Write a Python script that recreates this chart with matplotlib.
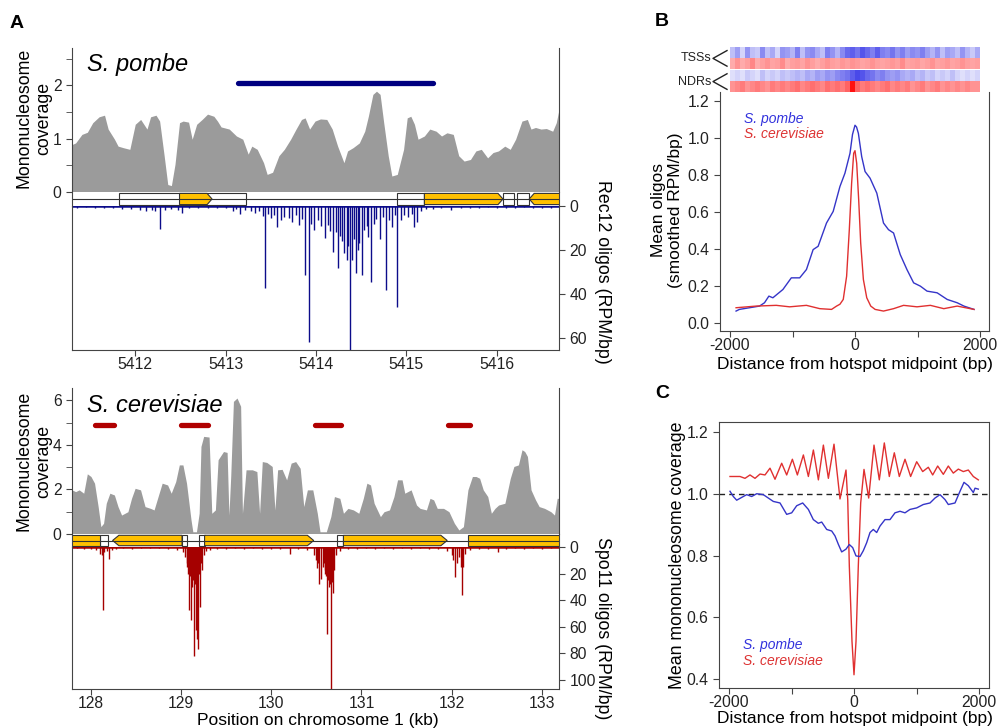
import numpy as np
import matplotlib
matplotlib.use('Agg')
import matplotlib.pyplot as plt
from matplotlib.colors import LinearSegmentedColormap
from matplotlib.patches import Polygon, Rectangle

# Colors
GREY = '#9b9b9b'
NAVY = '#0c0c8a'
DARKRED = '#a50000'
ORANGE = '#ffc000'
BLUE = '#3535c8'
RED = '#e03030'
EDGE = '#444444'

plt.rcParams['font.family'] = ['Liberation Sans', 'DejaVu Sans']
plt.rcParams['font.size'] = 11.3
plt.rcParams['axes.edgecolor'] = EDGE
plt.rcParams['xtick.color'] = EDGE
plt.rcParams['ytick.color'] = EDGE
plt.rcParams['xtick.labelcolor'] = '#222222'
plt.rcParams['ytick.labelcolor'] = '#222222'
plt.rcParams['xtick.major.size'] = 4
plt.rcParams['ytick.major.size'] = 4
plt.rcParams['xtick.minor.size'] = 4
plt.rcParams['ytick.minor.size'] = 4
plt.rcParams['xtick.major.pad'] = 1.0

# ---------------- data: S. pombe track (kb) ----------------
pombe_cov_x = [5411.30, 5411.34, 5411.41, 5411.47, 5411.53, 5411.60, 5411.66, 5411.70, 5411.77, 5411.81,
               5411.87, 5411.94, 5412.00, 5412.06, 5412.13, 5412.17, 5412.23, 5412.27, 5412.32, 5412.36,
               5412.40, 5412.44, 5412.49, 5412.53, 5412.59, 5412.63, 5412.68, 5412.74, 5412.80, 5412.87,
               5412.91, 5412.95, 5413.04, 5413.12, 5413.19, 5413.25, 5413.29, 5413.35, 5413.42, 5413.46,
               5413.52, 5413.59, 5413.65, 5413.72, 5413.78, 5413.84, 5413.88, 5413.93, 5413.99, 5414.05,
               5414.12, 5414.18, 5414.24, 5414.31, 5414.35, 5414.41, 5414.48, 5414.54, 5414.58, 5414.63,
               5414.67, 5414.71, 5414.75, 5414.80, 5414.84, 5414.90, 5414.97, 5415.01, 5415.05, 5415.09,
               5415.13, 5415.20, 5415.26, 5415.33, 5415.39, 5415.45, 5415.52, 5415.58, 5415.64, 5415.71,
               5415.77, 5415.83, 5415.90, 5415.96, 5416.02, 5416.09, 5416.15, 5416.21, 5416.28, 5416.34,
               5416.38, 5416.43, 5416.49, 5416.55, 5416.62, 5416.66, 5416.69]
pombe_cov_y = [0.89, 0.92, 1.08, 1.12, 1.30, 1.41, 1.44, 1.18, 0.99, 0.86,
               0.83, 0.80, 1.27, 1.36, 1.18, 1.41, 1.44, 1.33, 0.68, 0.14,
               0.12, 0.52, 1.30, 1.33, 1.31, 0.99, 1.27, 1.36, 1.46, 1.42,
               1.33, 1.22, 1.18, 1.05, 0.99, 0.71, 0.86, 0.80, 0.55, 0.33,
               0.37, 0.68, 0.80, 0.99, 1.18, 1.36, 1.39, 1.18, 1.33, 1.37,
               1.36, 1.18, 0.86, 0.55, 0.77, 0.83, 0.92, 1.14, 1.42, 1.83,
               1.89, 1.83, 1.30, 0.68, 0.30, 0.33, 0.80, 1.39, 1.42, 1.27,
               0.99, 1.05, 1.18, 1.14, 1.05, 1.11, 1.08, 0.68, 0.58, 0.61,
               0.77, 0.80, 0.64, 0.74, 0.77, 0.86, 0.80, 0.99, 1.33, 1.36,
               1.18, 1.21, 1.18, 1.19, 1.14, 1.30, 1.55]
pombe_hotspots = [(5413.14, 5415.30)]
pombe_utrs = [(5411.82, 5413.23), (5414.90, 5415.20), (5416.07, 5416.19), (5416.22, 5416.36)]
pombe_cds = [(5412.49, 5412.85, 1), (5415.20, 5416.07, 1), (5416.36, 5416.90, -1)]
pombe_oligo_x = [5411.35, 5411.45, 5411.55, 5411.65, 5411.75, 5411.85, 5411.95, 5412.05, 5412.12, 5412.18,
                 5412.22, 5412.27, 5412.33, 5412.40, 5412.47, 5412.52, 5412.60, 5412.70, 5412.80, 5412.90,
                 5413.00, 5413.08, 5413.12, 5413.16, 5413.22, 5413.28, 5413.32, 5413.37, 5413.41, 5413.44,
                 5413.47, 5413.50, 5413.54, 5413.57, 5413.61, 5413.65, 5413.70, 5413.74, 5413.78, 5413.81,
                 5413.85, 5413.88, 5413.92, 5413.95, 5413.98, 5414.02, 5414.06, 5414.10, 5414.13, 5414.16,
                 5414.19, 5414.22, 5414.24, 5414.27, 5414.29, 5414.31, 5414.34, 5414.36, 5414.38, 5414.40,
                 5414.42, 5414.44, 5414.46, 5414.48, 5414.51, 5414.53, 5414.56, 5414.58, 5414.61, 5414.64,
                 5414.67, 5414.71, 5414.74, 5414.78, 5414.81, 5414.84, 5414.87, 5414.90, 5414.94, 5414.98,
                 5415.02, 5415.06, 5415.09, 5415.12, 5415.16, 5415.22, 5415.30, 5415.38, 5415.50, 5415.60,
                 5415.70, 5415.80, 5415.90, 5416.00, 5416.10, 5416.20, 5416.30, 5416.40, 5416.50, 5416.60]
pombe_oligo_y = [0.8, 0.6, 0.9, 0.7, 1.0, 1.2, 1.5, 1.8, 2.2, 1.6,
                 2.5, 10.6, 1.8, 1.4, 2.0, 3.3, 1.0, 0.8, 0.9, 0.7,
                 1.0, 2.1, 1.5, 3.6, 1.8, 2.4, 3.0, 2.2, 4.5, 37.4,
                 3.5, 5.6, 4.0, 9.4, 6.2, 4.8, 5.6, 7.5, 4.2, 8.8,
                 6.0, 31.4, 61.7, 8.0, 10.9, 6.5, 9.2, 14.7, 8.5, 11.2,
                 20.8, 12.0, 28.3, 13.5, 16.0, 21.2, 24.5, 18.0, 66.0, 24.5,
                 15.0, 30.6, 20.0, 17.0, 31.4, 11.0, 9.0, 14.0, 34.4, 8.0,
                 6.0, 15.0, 5.0, 38.2, 6.5, 9.4, 4.0, 46.0, 6.4, 4.2,
                 5.0, 3.5, 9.4, 7.1, 2.5, 1.5, 1.2, 1.0, 1.8, 0.8,
                 0.7, 0.9, 0.6, 0.8, 0.7, 0.9, 0.6, 1.0, 0.8, 0.7]
pombe_xticks = [5412, 5413, 5414, 5415, 5416]

# ---------------- data: S. cerevisiae track (kb) ----------------
cer_cov_x = [127.79, 127.83, 127.87, 127.92, 127.96, 128.00, 128.04, 128.08, 128.11, 128.14,
             128.17, 128.21, 128.26, 128.30, 128.34, 128.41, 128.45, 128.49, 128.55, 128.60,
             128.66, 128.70, 128.75, 128.79, 128.85, 128.89, 128.94, 128.98, 129.02, 129.06,
             129.11, 129.13, 129.17, 129.20, 129.22, 129.25, 129.31, 129.34, 129.38, 129.41,
             129.47, 129.51, 129.53, 129.55, 129.58, 129.62, 129.66, 129.68, 129.72, 129.79,
             129.84, 129.87, 129.90, 129.95, 130.01, 130.04, 130.07, 130.12, 130.17, 130.22,
             130.27, 130.32, 130.36, 130.40, 130.46, 130.51, 130.54, 130.61, 130.66, 130.70,
             130.76, 130.80, 130.85, 130.91, 130.97, 131.02, 131.06, 131.10, 131.14, 131.21,
             131.25, 131.31, 131.36, 131.40, 131.45, 131.48, 131.55, 131.61, 131.65, 131.72,
             131.76, 131.80, 131.84, 131.91, 131.97, 132.03, 132.08, 132.13, 132.18, 132.23,
             132.27, 132.31, 132.35, 132.40, 132.44, 132.48, 132.52, 132.59, 132.65, 132.69,
             132.74, 132.78, 132.81, 132.84, 132.88, 132.93, 132.97, 133.03, 133.10, 133.14,
             133.17, 133.19]
cer_cov_y = [1.98, 1.90, 1.98, 1.83, 2.70, 2.58, 2.28, 1.23, 0.33, 0.48,
             1.38, 1.83, 1.75, 1.23, 0.85, 1.00, 1.60, 2.05, 1.98, 1.23,
             1.15, 1.08, 1.75, 2.28, 2.20, 1.83, 2.35, 3.10, 3.10, 2.28,
             0.63, 0.10, 0.10, 0.93, 3.93, 4.38, 4.35, 0.93, 1.08, 3.33,
             3.70, 3.66, 0.85, 2.58, 5.95, 6.10, 5.73, 0.93, 2.88, 2.88,
             2.80, 0.93, 3.25, 3.21, 3.03, 1.08, 2.88, 2.90, 2.43, 3.18,
             3.25, 2.95, 1.23, 1.98, 1.98, 0.93, 0.10, 0.10, 0.78, 1.68,
             1.60, 0.93, 1.15, 1.08, 0.93, 1.60, 2.28, 2.20, 1.38, 0.78,
             1.00, 1.08, 1.68, 2.43, 2.43, 1.83, 1.98, 1.30, 1.15, 1.08,
             1.60, 1.53, 1.15, 1.15, 1.00, 0.48, 0.18, 0.33, 1.98, 2.58,
             2.58, 2.50, 1.98, 1.68, 0.93, 1.15, 1.30, 1.38, 2.50, 3.03,
             3.10, 3.78, 3.70, 3.48, 1.98, 1.53, 1.23, 1.15, 1.00, 0.85,
             1.60, 1.60]
cer_hotspots = [(128.04, 128.26), (129.00, 129.30), (130.48, 130.77), (131.96, 132.20)]
cer_utrs = [(128.10, 128.19), (129.01, 129.07), (129.20, 129.26), (130.73, 130.80)]
cer_cds = [(127.60, 128.10, 0), (128.24, 129.01, -1), (129.26, 130.47, 1),
           (130.80, 131.95, 1), (132.18, 133.40, 0)]
cer_oligo_x = [127.85, 127.92, 128.00, 128.06, 128.10, 128.12, 128.13, 128.15, 128.18, 128.20,
               128.23, 128.28, 128.35, 128.45, 128.55, 128.65, 128.75, 128.85, 128.95, 129.02,
               129.04, 129.06, 129.07, 129.08, 129.09, 129.10, 129.11, 129.12, 129.13, 129.14,
               129.15, 129.16, 129.17, 129.18, 129.19, 129.20, 129.21, 129.22, 129.23, 129.25,
               129.28, 129.32, 129.40, 129.50, 129.60, 129.70, 129.80, 129.90, 130.00, 130.10,
               130.21, 130.30, 130.40, 130.47, 130.49, 130.51, 130.52, 130.53, 130.55, 130.57,
               130.58, 130.59, 130.60, 130.61, 130.62, 130.63, 130.64, 130.65, 130.66, 130.67,
               130.68, 130.70, 130.72, 130.76, 130.85, 130.95, 131.05, 131.15, 131.25, 131.35,
               131.45, 131.55, 131.65, 131.75, 131.85, 131.95, 132.00, 132.02, 132.04, 132.06,
               132.08, 132.10, 132.11, 132.13, 132.15, 132.20, 132.30, 132.40, 132.51, 132.60,
               132.70, 132.80, 132.90, 133.00, 133.10]
cer_oligo_y = [1.0, 1.5, 1.2, 2.0, 5.0, 6.3, 47.7, 4.0, 3.0, 8.8,
               2.5, 1.5, 1.0, 1.2, 1.0, 0.8, 1.0, 1.3, 2.0, 4.0,
               7.5, 12.0, 15.0, 20.0, 47.7, 22.0, 55.0, 30.0, 25.0, 82.4,
               28.0, 62.8, 24.0, 69.0, 76.6, 20.0, 45.0, 12.0, 17.6, 6.0,
               3.0, 2.0, 1.5, 1.2, 1.0, 1.3, 1.0, 1.2, 1.5, 1.3,
               5.0, 1.5, 2.5, 6.0, 10.0, 16.0, 12.0, 27.6, 24.0, 15.0,
               12.0, 17.6, 20.0, 22.0, 65.3, 25.0, 30.0, 28.0, 108.5, 26.0,
               35.0, 17.6, 6.0, 3.0, 1.5, 1.2, 1.0, 1.3, 1.0, 1.2,
               1.0, 1.3, 1.0, 1.2, 1.5, 3.0, 6.0, 10.0, 22.6, 12.0,
               7.5, 15.0, 36.4, 15.0, 5.0, 2.0, 1.5, 1.2, 3.8, 1.2,
               1.0, 1.2, 1.0, 1.3, 1.0]
cer_xticks = [128, 129, 130, 131, 132, 133]

# ---------------- data: panel B ----------------
heat_tss_pombe = [0.30, 0.45, 0.20, 0.50, 0.30, 0.25, 0.55, 0.30, 0.40, 0.20,
                  0.50, 0.45, 0.35, 0.60, 0.30, 0.50, 0.55, 0.40, 0.30, 0.60,
                  0.50, 0.35, 0.55, 0.70, 0.75, 0.65, 0.80, 0.70, 0.60, 0.75,
                  0.60, 0.55, 0.65, 0.50, 0.60, 0.45, 0.55, 0.50, 0.60, 0.45,
                  0.35, 0.50, 0.30, 0.45, 0.40, 0.30, 0.50, 0.35, 0.25, 0.40]
heat_tss_cer = [0.35, 0.45, 0.35, 0.40, 0.50, 0.35, 0.40, 0.45, 0.38, 0.40,
                0.48, 0.35, 0.40, 0.42, 0.38, 0.45, 0.40, 0.35, 0.40, 0.45,
                0.40, 0.38, 0.43, 0.40, 0.45, 0.42, 0.38, 0.40, 0.45, 0.40,
                0.38, 0.40, 0.43, 0.40, 0.48, 0.38, 0.40, 0.42, 0.37, 0.40,
                0.45, 0.38, 0.40, 0.43, 0.38, 0.40, 0.45, 0.40, 0.38, 0.40]
heat_ndr_pombe = [0.15, 0.20, 0.15, 0.25, 0.20, 0.15, 0.30, 0.20, 0.25, 0.20,
                  0.30, 0.25, 0.30, 0.35, 0.30, 0.40, 0.35, 0.45, 0.40, 0.50,
                  0.45, 0.55, 0.60, 0.65, 0.75, 0.85, 0.80, 0.70, 0.65, 0.55,
                  0.60, 0.50, 0.45, 0.50, 0.40, 0.35, 0.40, 0.30, 0.35, 0.25,
                  0.30, 0.20, 0.25, 0.20, 0.30, 0.20, 0.15, 0.20, 0.15, 0.20]
heat_ndr_cer = [0.45, 0.50, 0.55, 0.45, 0.50, 0.55, 0.50, 0.45, 0.55, 0.50,
                0.55, 0.50, 0.55, 0.60, 0.50, 0.55, 0.60, 0.55, 0.50, 0.60,
                0.55, 0.60, 0.55, 0.65, 1.00, 0.65, 0.55, 0.60, 0.55, 0.50,
                0.55, 0.60, 0.50, 0.55, 0.50, 0.55, 0.45, 0.50, 0.55, 0.45,
                0.50, 0.55, 0.45, 0.50, 0.45, 0.50, 0.45, 0.50, 0.45, 0.45]
heat_labels = ['TSSs', 'NDRs']

b_pombe_x = [-1903, -1850, -1689, -1528, -1448, -1378, -1314, -1153, -1019, -885,
             -777, -670, -590, -456, -349, -241, -161, -80, -40, 0,
             25, 54, 107, 161, 241, 349, 456, 536, 617, 724,
             831, 938, 1046, 1153, 1314, 1475, 1635, 1743, 1904]
b_pombe_y = [0.063, 0.072, 0.081, 0.090, 0.108, 0.144, 0.135, 0.180, 0.243, 0.243,
             0.288, 0.396, 0.414, 0.540, 0.603, 0.738, 0.810, 0.918, 1.020, 1.070,
             1.060, 1.026, 0.900, 0.819, 0.783, 0.702, 0.540, 0.504, 0.486, 0.369,
             0.288, 0.216, 0.198, 0.171, 0.162, 0.126, 0.108, 0.090, 0.072]
b_cer_x = [-1903, -1582, -1260, -1046, -777, -563, -375, -295, -241, -188,
           -134, -91, -54, -21, 0, 27, 59, 91, 134, 188,
           252, 322, 456, 617, 777, 992, 1206, 1421, 1635, 1904]
b_cer_y = [0.081, 0.090, 0.094, 0.086, 0.094, 0.076, 0.072, 0.090, 0.100, 0.126,
           0.252, 0.504, 0.756, 0.918, 0.932, 0.864, 0.666, 0.432, 0.234, 0.135,
           0.090, 0.072, 0.063, 0.076, 0.094, 0.086, 0.094, 0.076, 0.090, 0.072]

# ---------------- data: panel C ----------------
c_cer_x = [-1984, -1824, -1744, -1664, -1584, -1504, -1424, -1344, -1264, -1157,
           -1077, -986, -906, -810, -730, -650, -570, -490, -410, -320,
           -224, -128, -100, -75, -32, 0, 32, 69, 107, 160,
           235, 320, 405, 485, 565, 645, 725, 816, 906, 1003,
           1099, 1189, 1259, 1339, 1429, 1509, 1589, 1669, 1749, 1829,
           1909, 1989]
c_cer_y = [1.057, 1.057, 1.051, 1.062, 1.051, 1.065, 1.062, 1.084, 1.048, 1.100,
           1.062, 1.113, 1.062, 1.127, 1.057, 1.143, 1.046, 1.159, 1.051, 1.162,
           0.984, 1.078, 0.980, 0.767, 0.521, 0.413, 0.521, 0.767, 0.971, 1.080,
           0.987, 1.159, 1.046, 1.166, 1.057, 1.134, 1.057, 1.113, 1.057, 1.105,
           1.073, 1.087, 1.062, 1.091, 1.064, 1.091, 1.068, 1.081, 1.073, 1.078,
           1.057, 1.046]
c_pombe_x = [-1984, -1931, -1877, -1771, -1717, -1637, -1557, -1451, -1371, -1291,
             -1184, -1077, -997, -917, -821, -730, -651, -571, -517, -437,
             -357, -304, -251, -197, -128, -75, -21, 32, 96, 149,
             203, 256, 309, 363, 416, 496, 576, 656, 736, 816,
             896, 1003, 1109, 1216, 1296, 1376, 1456, 1509, 1616, 1696,
             1760, 1829, 1909, 1936, 1989]
c_pombe_y = [1.009, 0.992, 0.980, 0.992, 0.998, 0.992, 1.001, 0.998, 0.987, 0.976,
             0.971, 0.934, 0.939, 0.962, 0.971, 0.950, 0.917, 0.905, 0.909, 0.885,
             0.880, 0.864, 0.837, 0.812, 0.821, 0.836, 0.826, 0.799, 0.797, 0.816,
             0.842, 0.875, 0.885, 0.875, 0.896, 0.917, 0.917, 0.939, 0.944, 0.939,
             0.950, 0.955, 0.966, 0.971, 0.987, 0.998, 0.982, 0.966, 0.971, 1.009,
             1.038, 1.027, 1.005, 1.019, 1.016]
dist_ticks = [-2000, -1000, 0, 1000, 2000]
dist_labels = ['-2000', '', '0', '', '2000']

# ---------------- figure ----------------
W, H = 998, 728
fig = plt.figure(figsize=(W / 100, H / 100), dpi=100)


def box(l, t, r, b):
    return fig.add_axes([l / W, 1 - b / H, (r - l) / W, (b - t) / H])


def sides_only(ax, bottom=False, top=False):
    ax.spines['top'].set_visible(top)
    ax.spines['bottom'].set_visible(bottom)


def draw_genes(ax, utrs, cds, xlim, tip):
    ax.plot(xlim, [0.5, 0.5], color='#333333', lw=0.8)
    for s, e in utrs:
        ax.add_patch(Rectangle((s, 0.1), e - s, 0.8, fc='white', ec='#333333', lw=0.8))
    for s, e, strand in cds:
        if strand > 0:
            pts = [(s, .1), (e - tip, .1), (e, .5), (e - tip, .9), (s, .9)]
        elif strand < 0:
            pts = [(s, .5), (s + tip, .1), (e, .1), (e, .9), (s + tip, .9)]
        else:
            pts = [(s, .1), (e, .1), (e, .9), (s, .9)]
        ax.add_patch(Polygon(pts, closed=True, fc=ORANGE, ec='#333333', lw=0.8))
    ax.set_xlim(xlim)
    ax.set_ylim(0, 1)
    ax.set_xticks([])
    ax.set_yticks([])
    sides_only(ax)


def draw_track(ys, xlim, cov_x, cov_y, cov_top, cov_ticks, cov_minor, hot, hot_y, hot_color,
               utrs, cds, tip, ol_x, ol_y, ol_max, ol_ticks, ol_color, xticks):
    y0, y1, y2, y3 = ys
    ax_cov = box(72, y0, 559, y1)
    ax_cov.fill_between(cov_x, 0, cov_y, color=GREY, lw=0)
    for s, e in hot:
        ax_cov.plot([s, e], [hot_y, hot_y], color=hot_color, lw=3.8, solid_capstyle='round')
    ax_cov.set_xlim(xlim)
    ax_cov.set_ylim(0, cov_top)
    ax_cov.set_yticks(cov_ticks)
    ax_cov.set_yticks(cov_minor, minor=True)
    ax_cov.set_xticks([])
    sides_only(ax_cov)

    ax_gene = box(72, y1, 559, y2)
    draw_genes(ax_gene, utrs, cds, xlim, tip)

    ax_ol = box(72, y2, 559, y3)
    ax_ol.axhline(0, color=ol_color, lw=1.8)
    ax_ol.vlines(ol_x, 0, ol_y, colors=ol_color, lw=1.0)
    ax_ol.set_xlim(xlim)
    ax_ol.set_ylim(ol_max, 0)
    ax_ol.yaxis.tick_right()
    ax_ol.set_yticks(ol_ticks)
    ax_ol.set_xticks(xticks)
    ax_ol.spines['top'].set_visible(False)
    return ax_cov, ax_ol


draw_track((48, 192, 206, 350), (5411.30, 5416.69), pombe_cov_x, pombe_cov_y, 2.7,
           [0, 1, 2], [0.5, 1.5, 2.5], pombe_hotspots, 2.05, '#000080',
           pombe_utrs, pombe_cds, 0.055, pombe_oligo_x, pombe_oligo_y, 65.5,
           [0, 20, 40, 60], NAVY, pombe_xticks)
draw_track((388, 534, 547, 689), (127.79, 133.19), cer_cov_x, cer_cov_y, 6.55,
           [0, 2, 4, 6], [1, 3, 5], cer_hotspots, 4.9, '#b00000',
           cer_utrs, cer_cds, 0.07, cer_oligo_x, cer_oligo_y, 107,
           [0, 20, 40, 60, 80, 100], DARKRED, cer_xticks)


def ftext(x, y, s, **kw):
    fig.text(x / W, 1 - y / H, s, **kw)


ftext(34, 118, 'Mononucleosome\ncoverage', rotation=90, ha='center', va='center', fontsize=12.8)
ftext(34, 461, 'Mononucleosome\ncoverage', rotation=90, ha='center', va='center', fontsize=12.8)
ftext(602, 272, 'Rec12 oligos (RPM/bp)', rotation=270, ha='center', va='center', fontsize=12.8)
ftext(602, 628, 'Spo11 oligos (RPM/bp)', rotation=270, ha='center', va='center', fontsize=12.8)
ftext(318, 720, 'Position on chromosome 1 (kb)', ha='center', va='center', fontsize=12.5)
ftext(87, 64, 'S. pombe', style='italic', ha='left', va='center', fontsize=17)
ftext(87, 406, 'S. cerevisiae', style='italic', ha='left', va='center', fontsize=17)
ftext(17, 24, 'A', fontweight='bold', ha='center', va='center', fontsize=14)
ftext(662, 22, 'B', fontweight='bold', ha='center', va='center', fontsize=14)
ftext(662, 393, 'C', fontweight='bold', ha='center', va='center', fontsize=14)

# ---------------- panel B heat strips ----------------
blue_cmap = LinearSegmentedColormap.from_list('bl', ['#ffffff', '#2a2ae6'])
red_cmap = LinearSegmentedColormap.from_list('rd', ['#ffffff', '#ff1010'])
ax_h = box(730, 47, 980, 92.5)
rows = [(heat_tss_pombe, blue_cmap), (heat_tss_cer, red_cmap),
        (heat_ndr_pombe, blue_cmap), (heat_ndr_cer, red_cmap)]
for i, (vals, cm) in enumerate(rows):
    top = i * 1.07
    ax_h.imshow([vals], cmap=cm, vmin=0, vmax=1, aspect='auto',
                extent=(-2000, 2000, top + 0.99, top), interpolation='nearest')
ax_h.set_xlim(-2000, 2000)
ax_h.set_ylim(4.2, 0)
ax_h.axis('off')
for j, lab in enumerate(heat_labels):
    mid = 1.05 + j * 2.14
    ax_h.plot([-2048, -2272, -2048], [mid - 0.72, mid, mid + 0.72], color='#222222',
              lw=1.0, clip_on=False)
    ax_h.text(-2300, mid, lab, ha='right', va='center', fontsize=9, color='#222222')

# ---------------- panel B main ----------------
ax_b = box(720, 92, 989, 331)
ax_b.plot(b_pombe_x, b_pombe_y, color=BLUE, lw=1.0)
ax_b.plot(b_cer_x, b_cer_y, color=RED, lw=1.0)
ax_b.set_xlim(-2160, 2144)
ax_b.set_ylim(-0.045, 1.25)
ax_b.set_yticks([0.0, 0.2, 0.4, 0.6, 0.8, 1.0, 1.2])
ax_b.set_yticklabels(['%.1f' % v for v in [0.0, 0.2, 0.4, 0.6, 0.8, 1.0, 1.2]])
ax_b.set_xticks(dist_ticks)
ax_b.set_xticklabels(dist_labels)
ax_b.spines['top'].set_visible(False)
ax_b.text(0.09, 0.885, 'S. pombe', transform=ax_b.transAxes, color='#3333dd',
          style='italic', fontsize=10, va='center')
ax_b.text(0.09, 0.823, 'S. cerevisiae', transform=ax_b.transAxes, color='#dd3333',
          style='italic', fontsize=10, va='center')
ftext(667, 210, 'Mean oligos\n(smoothed RPM/bp)', rotation=90, ha='center', va='center',
      fontsize=12.5)
ftext(855, 364, 'Distance from hotspot midpoint (bp)', ha='center', va='center', fontsize=12.5)

# ---------------- panel C ----------------
ax_c = box(719, 422, 989, 688)
ax_c.axhline(1.0, color='#222222', lw=1.0, ls=(0, (4, 3)))
ax_c.plot(c_cer_x, c_cer_y, color=RED, lw=1.0)
ax_c.plot(c_pombe_x, c_pombe_y, color=BLUE, lw=1.0)
ax_c.set_xlim(-2160, 2160)
ax_c.set_ylim(0.37, 1.234)
ax_c.set_yticks([0.4, 0.6, 0.8, 1.0, 1.2])
ax_c.set_yticklabels(['%.1f' % v for v in [0.4, 0.6, 0.8, 1.0, 1.2]])
ax_c.set_xticks(dist_ticks)
ax_c.set_xticklabels(dist_labels)
ax_c.text(0.09, 0.162, 'S. pombe', transform=ax_c.transAxes, color='#3333dd',
          style='italic', fontsize=10, va='center')
ax_c.text(0.09, 0.103, 'S. cerevisiae', transform=ax_c.transAxes, color='#dd3333',
          style='italic', fontsize=10, va='center')
ftext(678, 555, 'Mean mononucleosome coverage', rotation=90, ha='center', va='center',
      fontsize=12.8)
ftext(855, 719, 'Distance from hotspot midpoint (bp)', ha='center', va='center', fontsize=12.5)

fig.savefig('out.png', dpi=100)
